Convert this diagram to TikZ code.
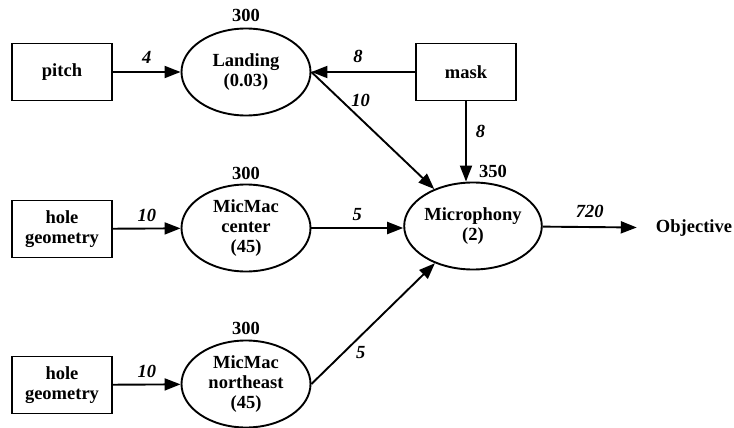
\documentclass[tikz,border=0pt]{standalone}
\usepackage{fontspec}
\setmainfont{Liberation Serif}
\usetikzlibrary{arrows.meta,shapes.geometric}
\begin{document}
\begin{tikzpicture}[x=1pt,y=-1pt,
  every node/.style={font=\fontsize{18.5}{20}\selectfont\bfseries},
  box/.style={draw, line width=1.9pt, minimum width=100pt, minimum height=57pt, align=center, inner sep=0pt},
  ell/.style={draw, ellipse, line width=1.9pt, minimum width=129pt, minimum height=87pt, align=center, inner sep=0pt},
  conn/.style={line width=1.9pt, -{Triangle[length=16pt,width=12pt]}},
  wt/.style={font=\fontsize{18.5}{20}\selectfont\bfseries\itshape, inner sep=0pt},
  capnum/.style={inner sep=0pt}]
\useasboundingbox (0,0) rectangle (734,428);
% nodes
\node[box] (pitch) at (62,72) {pitch};
\node[ell] (land) at (246,72) {Landing\\(0.03)};
\node[box] (mask) at (466,72) {mask};
\node[box] (hg1) at (62,229) {hole\\geometry};
\node[ell] (mcc) at (246,228) {MicMac\\center\\(45)};
\node[ell] (micro) at (473,226) {Microphony\\(2)};
\node[box] (hg2) at (62,385) {hole\\geometry};
\node[ell] (mne) at (246,384) {MicMac\\northeast\\(45)};
\node[inner ysep=0pt, inner xsep=19pt] (obj) at (694,228) {Objective};
% capacity labels
\node[capnum] (c1) at (246,15) {300};
\node[capnum] (c2) at (246,173) {300};
\node[capnum] (c3) at (246,328) {300};
\node[capnum] (c4) at (493,171) {350};
% connectors
\draw[conn] (pitch) -- node[wt, above=8pt] (w1) {4} (land);
\draw[conn] (mask) -- node[wt, above=8pt, pos=0.55] (w2) {8} (land);
\draw[conn] (land.east) -- node[wt, pos=0.4, above=11pt] (w3) {10} (micro);
\draw[conn] (mask.south) -- node[wt, pos=0.37, right=9pt] (w4) {8} (mask.south |- micro.north);
\draw[conn] (hg1) -- node[wt, above=6pt] (w5) {10} (mcc);
\draw[conn] (mcc) -- node[wt, above=6pt] (w6) {5} (micro.west |- mcc);
\draw[conn] (hg2) -- node[wt, above=6pt] (w7) {10} (mne);
\draw[conn] (mne.east) -- node[wt, pos=0.4, below=10pt] (w8) {5} (micro);
\draw[conn] (micro) -- node[wt, above=8pt] (w9) {720} (obj);
\end{tikzpicture}
\end{document}
